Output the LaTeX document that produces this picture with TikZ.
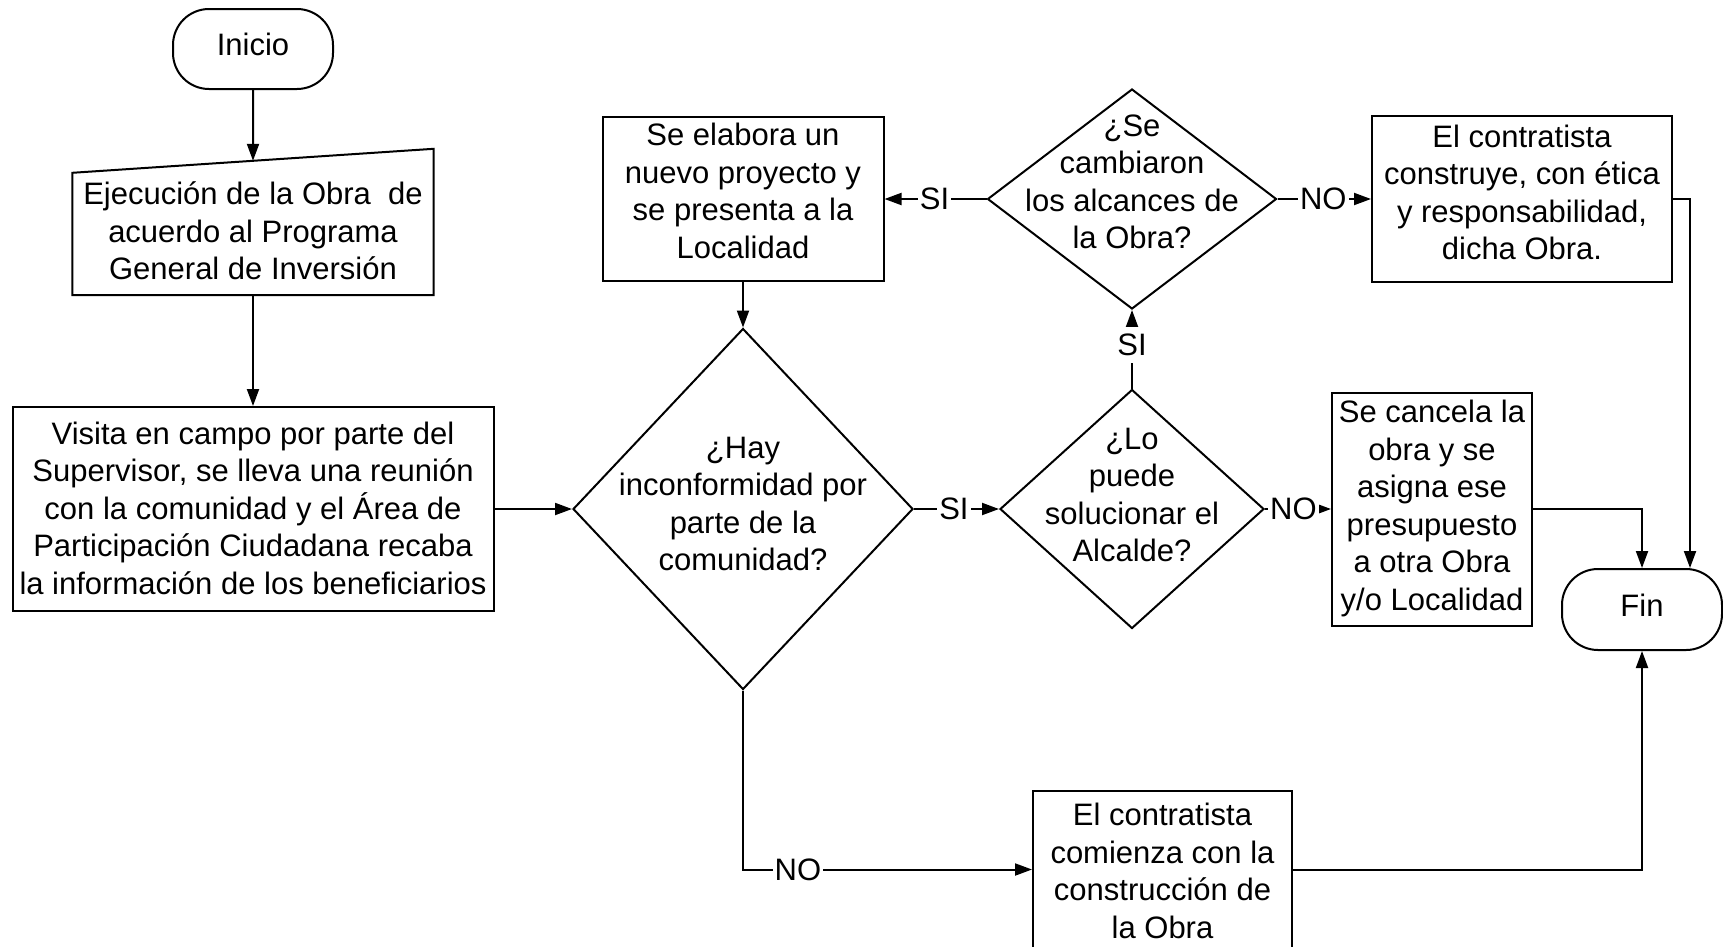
\documentclass[tikz,border=0pt]{standalone}
\usepackage{fontspec}
\setmainfont{Liberation Sans}
\usetikzlibrary{shapes.geometric, arrows.meta, calc}
\begin{document}
\begin{tikzpicture}[x=1pt,y=-1pt,
  every node/.style={font=\fontsize{31pt}{37.5pt}\selectfont},
  lw/.style={line width=2pt},
  boxn/.style={draw, lw, rectangle, inner sep=0pt},
  term/.style={draw, lw, rectangle, rounded corners=36pt, inner sep=0pt, minimum width=160pt, minimum height=80pt},
  dia/.style={draw, lw, diamond, inner sep=0pt},
  txt/.style={align=center, inner sep=0pt},
  conn/.style={lw, -{Triangle[length=17pt,width=12pt]}},
  lbl/.style={fill=white, inner xsep=2pt, inner ysep=7pt}]
\fill[white] (0,0) rectangle (1723,946);
\useasboundingbox (0,0) rectangle (1723,946);

\node[term] (inicio) at (253,49) {};
\node[txt] (inicioT) at (253,44) {Inicio};

\node[inner sep=0pt, minimum width=361pt, minimum height=146pt] (ejec) at (253,222) {};
\draw[lw] (ejec.south west) -- (ejec.south east) -- (ejec.north east) -- ([yshift=-24pt]ejec.north west) -- cycle;
\coordinate (ejectop) at ($([yshift=-24pt]ejec.north west)!0.5!(ejec.north east)$);
\node[txt] (ejecT) at (253,231) {Ejecución de la Obra\ \ de\\acuerdo al Programa\\General de Inversión};

\node[boxn, minimum width=481pt, minimum height=204pt] (visita) at (253,509) {};
\node[txt] (visitaT) at (253,508) {Visita en campo por parte del\\Supervisor, se lleva una reunión\\con la comunidad y el Área de\\Participación Ciudadana recaba\\la información de los beneficiarios};

\node[dia, minimum width=340pt, minimum height=361pt] (hay) at (743,509) {};
\node[txt] (hayT) at (743,504) {¿Hay\\inconformidad por\\parte de la\\comunidad?};

\node[boxn, minimum width=281pt, minimum height=164pt] (elab) at (743,199) {};
\node[txt] (elabT) at (743,191) {Se elabora un\\nuevo proyecto y\\se presenta a la\\Localidad};

\node[dia, minimum width=289pt, minimum height=220pt] (se) at (1132,199) {};
\node[txt] (seT) at (1132,182) {¿Se\\cambiaron\\los alcances de\\la Obra?};

\node[dia, minimum width=264pt, minimum height=239pt] (lo) at (1132,509) {};
\node[txt] (loT) at (1132,495) {¿Lo\\puede\\solucionar el\\Alcalde?};

\node[boxn, minimum width=300pt, minimum height=166pt] (cons) at (1522,199) {};
\node[txt] (consT) at (1522,192.5) {El contratista\\construye, con ética\\y responsabilidad,\\dicha Obra.};

\node[boxn, minimum width=200pt, minimum height=233pt] (canc) at (1432,509) {};
\node[txt] (cancT) at (1432,508.5) {Se cancela la\\obra y se\\asigna ese\\presupuesto\\a otra Obra\\y/o Localidad};

\node[term, minimum height=81pt] (fin) at (1642,609.5) {};
\node[txt] (finT) at (1642,605) {Fin};

\node[boxn, minimum width=259pt, minimum height=157pt] (com) at (1162.5,869.5) {};
\node[txt] (comT) at (1162.5,871) {El contratista\\comienza con la\\construcción de\\la Obra};

\draw[conn] (inicio.south) -- (ejectop);
\draw[conn] (ejec.south) -- (visita.north);
\draw[conn] (visita.east) -- (hay.west);
\draw[conn] (hay.east) -- node[lbl,pos=0.47]{SI} (lo.west);
\draw[conn] (lo.north) -- node[lbl,pos=0.56]{SI} (se.south);
\draw[conn] (se.west) -- node[lbl,pos=0.51]{SI} (elab.east);
\draw[conn] (se.east) -- node[lbl,pos=0.49]{NO} (cons.west);
\draw[conn] (lo.east) -- node[lbl,pos=0.43]{NO} (canc.west);
\draw[conn] (elab.south) -- (hay.north);
\draw[conn] (hay.south) |- node[lbl,pos=0.595]{NO} (com.west);
\draw[conn] (com.east) -| (fin.south);
\draw[conn] (canc.east) -| (fin.north);
\draw[conn] (cons.east) -| ([xshift=48pt]fin.north);
\end{tikzpicture}
\end{document}
